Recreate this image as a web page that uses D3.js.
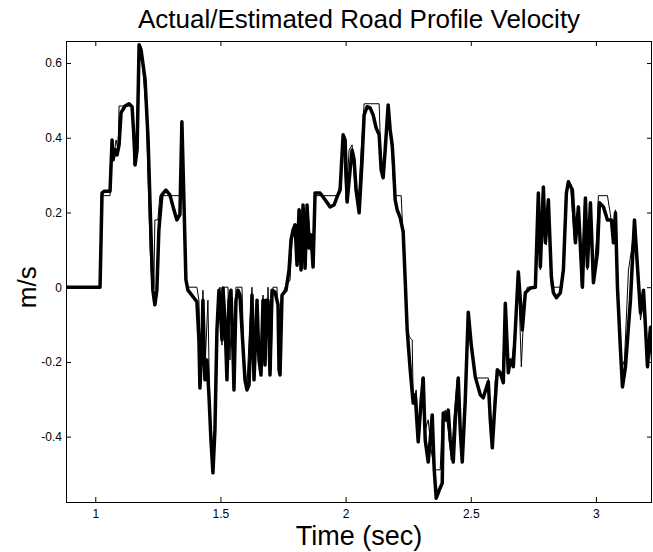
<!DOCTYPE html>
<html>
  <head>
    <meta charset="utf-8" />
    <script src="https://d3js.org/d3.v7.min.js"></script>
    <style>
      body { margin: 0; background: #ffffff; }
      svg text { font-family: Helvetica, Arial, "Liberation Sans", sans-serif; fill: #000000; }
      .frame { stroke: #000000; fill: none; stroke-width: 1; }
      .actual { stroke: #000000; fill: none; stroke-width: 1; }
      .estimated { stroke: #000000; fill: none; stroke-width: 3.5; stroke-linejoin: round; }
      .tick line { stroke: #000000; }
    </style>
  </head>
  <body>
    <svg width="653" height="552"></svg>

    <script type="text/javascript">

    // axis settings
    var xDomain = [0.883, 3.224];
    var yDomain = [-0.575, 0.659];
    var xTicks = [1, 1.5, 2, 2.5, 3];
    var yTicks = [-0.4, -0.2, 0, 0.2, 0.4, 0.6];

    // thick line: estimated road profile velocity [time, m/s]
    var estimated = [
      [0.883,0],[1.019,0],[1.027,0.252],[1.035,0.257],[1.059,0.257],[1.067,0.394],[1.071,0.341],[1.079,0.368],
      [1.087,0.354],[1.095,0.381],[1.103,0.467],[1.119,0.485],[1.135,0.491],[1.147,0.483],[1.155,0.394],[1.159,0.327],
      [1.167,0.368],[1.175,0.649],[1.183,0.635],[1.199,0.555],[1.211,0.394],[1.222,0.153],[1.230,-0.008],[1.238,-0.047],
      [1.246,-0.008],[1.254,0.153],[1.266,0.247],[1.282,0.260],[1.298,0.247],[1.314,0.207],[1.326,0.180],[1.338,0.194],
      [1.346,0.443],[1.354,0.234],[1.362,0.020],[1.370,-0.008],
      [1.406,-0.039],[1.414,-0.141],[1.418,-0.270],[1.426,-0.155],[1.430,-0.035],[1.438,-0.248],[1.446,-0.195],[1.454,-0.288],
      [1.462,-0.409],[1.470,-0.497],[1.478,-0.382],[1.486,-0.114],[1.494,-0.008],[1.498,-0.035],[1.506,-0.141],[1.510,-0.002],
      [1.518,-0.088],[1.526,-0.248],[1.534,-0.035],[1.542,-0.008],[1.550,-0.168],[1.554,-0.275],[1.562,-0.035],[1.570,-0.008],
      [1.578,-0.021],[1.586,-0.114],[1.598,-0.248],[1.606,-0.275],[1.614,-0.262],[1.622,-0.114],[1.626,-0.021],[1.634,-0.248],
      [1.642,-0.114],[1.646,-0.035],[1.654,-0.195],[1.662,-0.235],[1.670,-0.035],[1.678,-0.208],[1.682,-0.035],[1.690,-0.035],
      [1.698,-0.235],[1.706,-0.008],[1.718,-0.013],[1.730,-0.047],[1.734,-0.221],[1.738,-0.235],[1.746,-0.021],[1.762,-0.008],
      [1.774,0.046],[1.782,0.127],[1.790,0.153],
      [1.798,0.167],[1.806,0.059],[1.814,0.207],[1.822,0.046],[1.830,0.220],[1.838,0.051],[1.846,0.220],[1.854,0.105],
      [1.862,0.140],[1.870,0.054],[1.878,0.252],[1.898,0.252],[1.918,0.234],[1.938,0.215],[1.954,0.220],[1.966,0.242],
      [1.978,0.260],[1.990,0.408],[1.998,0.394],[2.006,0.228],[2.018,0.314],[2.026,0.367],[2.034,0.341],[2.042,0.260],
      [2.054,0.199],[2.066,0.341],[2.074,0.461],[2.086,0.483],[2.098,0.480],[2.110,0.461],[2.122,0.426],[2.134,0.408],
      [2.142,0.314],[2.150,0.293],[2.158,0.367],[2.170,0.488],[2.178,0.421],[2.186,0.381],[2.190,0.341],[2.198,0.234],
      [2.206,0.207],[2.218,0.186],[2.230,0.148],[2.238,0.020],[2.246,-0.114],[2.258,-0.221],[2.270,-0.310],[2.278,-0.288],
      [2.290,-0.414],[2.302,-0.302],[2.310,-0.243],[2.318,-0.409],[2.330,-0.468],[2.338,-0.409],[2.346,-0.342],[2.354,-0.489],
      [2.362,-0.565],[2.374,-0.543],[2.386,-0.525],[2.390,-0.337],[2.402,-0.356],[2.410,-0.329],[2.418,-0.409],[2.430,-0.468],
      [2.438,-0.356],[2.450,-0.243],[2.458,-0.383],[2.466,-0.468],[2.478,-0.302],[2.490,-0.067],[2.502,-0.155],[2.518,-0.240],
      [2.538,-0.288],[2.550,-0.296],[2.562,-0.270],[2.570,-0.253],[2.578,-0.355],[2.586,-0.430],[2.594,-0.342],[2.606,-0.221],
      [2.618,-0.229],[2.630,-0.256],[2.638,-0.043],[2.650,-0.229],[2.658,-0.195],[2.670,-0.213],[2.678,-0.114],[2.690,0.041],
      [2.698,-0.034],[2.706,-0.114],[2.718,-0.015],[2.738,-0.002],[2.758,0],[2.770,0.252],[2.778,0.054],[2.790,0.268],
      [2.798,0.119],[2.810,0.234],[2.822,0.028],[2.830,-0.015],[2.842,-0.028],[2.858,-0.015],[2.870,0.046],[2.882,0.252],
      [2.890,0.282],[2.906,0.260],[2.918,0.119],[2.930,0.215],[2.946,0],[2.958,0.239],[2.966,0.054],[2.978,0.226],
      [2.990,0.012],[3.006,0.092],[3.014,0.226],[3.030,0.215],[3.046,0.180],[3.062,0.180],[3.070,0.119],[3.078,0.199],
      [3.086,0],[3.098,-0.168],[3.106,-0.267],[3.118,-0.213],[3.138,-0.034],[3.154,0.180],[3.166,0.054],[3.178,-0.069],
      [3.190,-0.008],[3.198,-0.107],[3.206,-0.213],[3.218,-0.107],[3.230,-0.230]
    ];

    // thin line: actual road profile velocity (step-like) [time, m/s]
    var actual = [
      [0.883,0],[1.019,0],[1.023,0.245],[1.059,0.245],[1.067,0.381],[1.075,0.354],[1.083,0.394],[1.091,0.368],
      [1.095,0.485],[1.147,0.485],[1.155,0.327],[1.163,0.368],[1.175,0.649],[1.187,0.609],[1.203,0.475],[1.219,0.100],
      [1.226,0],[1.234,0],[1.238,0.180],[1.250,0.180],[1.258,0.245],[1.338,0.245],[1.346,0.434],[1.354,0.153],
      [1.366,0],[1.406,0],[1.414,-0.035],[1.422,-0.248],[1.430,-0.008],[1.438,-0.221],[1.450,-0.035],[1.458,-0.355],
      [1.470,-0.489],[1.482,-0.302],[1.490,-0.035],[1.498,0],[1.506,-0.155],[1.514,0],[1.530,0],[1.538,-0.195],
      [1.546,-0.035],[1.554,-0.248],[1.562,0],[1.586,0],[1.594,-0.195],[1.606,-0.262],[1.618,-0.088],[1.626,0],
      [1.634,-0.221],[1.646,-0.035],[1.658,-0.221],[1.670,-0.021],[1.682,-0.195],[1.690,0],[1.702,-0.221],[1.710,0],
      [1.726,0],[1.734,-0.208],[1.742,-0.035],[1.758,0],[1.778,0.019],[1.786,0.127],
      [1.802,0.167],[1.810,0.067],[1.818,0.207],[1.826,0.051],[1.834,0.212],[1.842,0.059],[1.850,0.207],[1.866,0.073],
      [1.878,0.245],[1.966,0.245],[1.978,0.274],[1.990,0.400],[2.002,0.234],[2.014,0.367],[2.026,0.381],[2.038,0.260],
      [2.050,0.220],[2.062,0.367],[2.074,0.491],[2.134,0.491],[2.142,0.327],[2.150,0.300],[2.170,0.480],[2.182,0.394],
      [2.194,0.245],[2.222,0.245],[2.230,0.127],[2.242,-0.088],[2.254,-0.133],[2.266,-0.141],[2.270,-0.302],[2.282,-0.275],
      [2.294,-0.409],[2.306,-0.243],[2.318,-0.382],[2.330,-0.355],[2.342,-0.436],[2.354,-0.489],[2.378,-0.489],[2.386,-0.356],
      [2.398,-0.329],[2.410,-0.383],[2.422,-0.463],[2.434,-0.342],[2.446,-0.248],[2.458,-0.409],[2.470,-0.449],[2.482,-0.248],
      [2.490,-0.075],[2.502,-0.168],[2.518,-0.243],[2.570,-0.243],[2.578,-0.329],[2.586,-0.409],[2.598,-0.248],[2.610,-0.235],
      [2.626,-0.243],[2.638,-0.061],[2.650,-0.221],[2.662,-0.208],[2.674,-0.141],[2.690,0.033],[2.702,-0.213],[2.714,-0.034],
      [2.726,0],[2.758,0],[2.770,0.234],[2.778,0.046],[2.790,0.260],[2.802,0.113],[2.810,0.220],[2.822,0],
      [2.866,0],[2.878,0.234],[2.886,0.274],[2.898,0.274],[2.914,0.127],[2.930,0.207],[2.942,0],[2.954,0.220],
      [2.966,0.046],[2.978,0.220],[2.990,0.019],[3.002,0.127],[3.010,0.245],[3.046,0.245],[3.058,0.194],[3.070,0.127],
      [3.078,0.207],[3.090,-0.035],[3.102,-0.221],[3.114,-0.195],[3.130,0.046],[3.142,0.100],[3.154,0.167],[3.166,0.032],
      [3.178,-0.088],[3.190,-0.035],[3.202,-0.195],[3.214,-0.114],[3.230,-0.208]
    ];

    var svg = d3.select("svg");
    // plot box in pixels (note: "top" is taken by window.top, so prefix everything)
    var boxLeft = 66, boxRight = 652, boxTop = 41, boxBottom = 502;

    var x = d3.scaleLinear().domain(xDomain).range([boxLeft, boxRight]);
    var y = d3.scaleLinear().domain(yDomain).range([boxBottom, boxTop]);

    svg.append("clipPath").attr("id", "plotClip")
      .append("rect")
        .attr("x", boxLeft).attr("y", boxTop)
        .attr("width", boxRight - boxLeft).attr("height", boxBottom - boxTop);

    var line = d3.line()
        .x(function(d) { return x(d[0]); })
        .y(function(d) { return y(d[1]); });

    var plot = svg.append("g").attr("clip-path", "url(#plotClip)");
    plot.append("path").datum(actual).attr("class", "actual").attr("d", line);
    plot.append("path").datum(estimated).attr("class", "estimated").attr("d", line);

    // MATLAB style box with inward ticks on every side
    var fmt = function(d) { return String(d); };

    svg.append("g")
        .attr("transform", "translate(0," + boxBottom + ")")
        .call(d3.axisBottom(x).tickValues(xTicks).tickFormat(fmt).tickSizeInner(-5).tickSizeOuter(0).tickPadding(7));
    svg.append("g")
        .attr("transform", "translate(0," + boxTop + ")")
        .call(d3.axisTop(x).tickValues(xTicks).tickFormat("").tickSizeInner(-5).tickSizeOuter(0));
    svg.append("g")
        .attr("transform", "translate(" + boxLeft + ",0)")
        .call(d3.axisLeft(y).tickValues(yTicks).tickFormat(fmt).tickSizeInner(-5).tickSizeOuter(0).tickPadding(4));
    svg.append("g")
        .attr("transform", "translate(" + boxRight + ",0)")
        .call(d3.axisRight(y).tickValues(yTicks).tickFormat("").tickSizeInner(-5).tickSizeOuter(0));

    svg.selectAll(".domain").remove();
    svg.selectAll(".tick text").style("font-size", "12px").style("fill", "#000000");

    svg.append("rect").attr("class", "frame")
      .attr("x", boxLeft + 0.5).attr("y", boxTop + 0.5)
      .attr("width", boxRight - boxLeft - 1).attr("height", boxBottom - boxTop);

    svg.append("text")
      .attr("x", (boxLeft + boxRight) / 2).attr("y", 28)
      .attr("text-anchor", "middle")
      .style("font-size", "26px")
      .text("Actual/Estimated Road Profile Velocity");

    svg.append("text")
      .attr("x", (boxLeft + boxRight) / 2).attr("y", 545)
      .attr("text-anchor", "middle")
      .style("font-size", "27px")
      .text("Time (sec)");

    svg.append("text")
      .attr("transform", "translate(36," + y(0) + ") rotate(-90)")
      .attr("text-anchor", "middle")
      .style("font-size", "26px")
      .text("m/s");

    </script>
  </body>
</html>
